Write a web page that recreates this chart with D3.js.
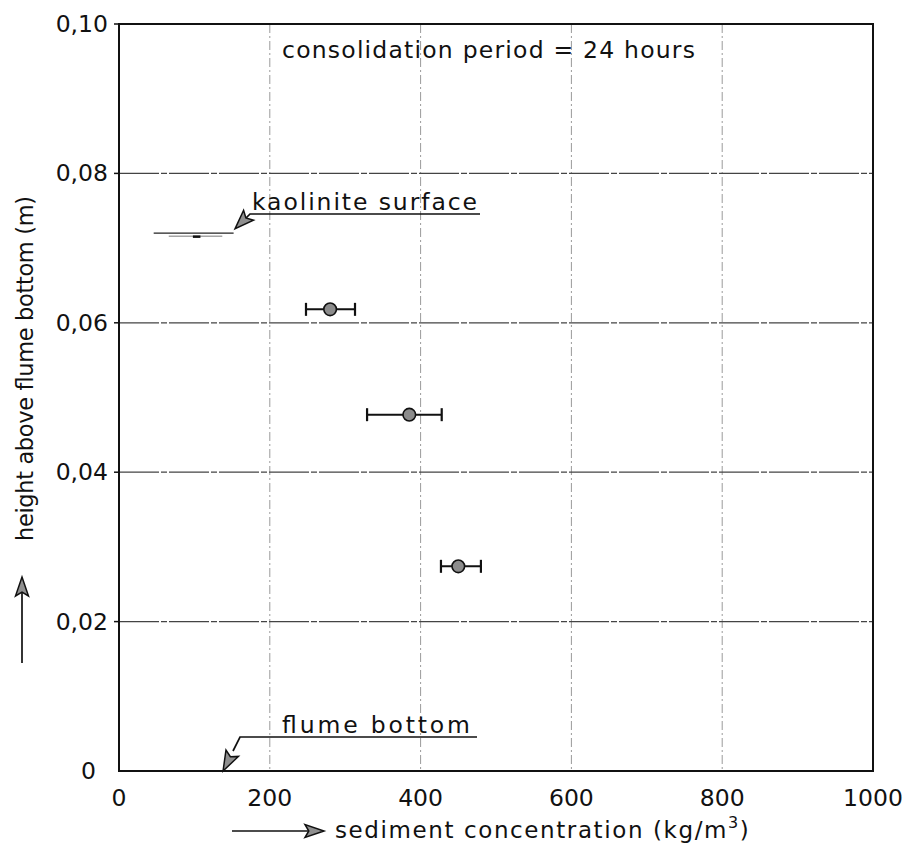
<!DOCTYPE html>
<html>
<head>
<meta charset="utf-8">
<script src="https://cdn.jsdelivr.net/npm/d3@7"></script>
<style>
  html, body { margin: 0; padding: 0; background: #fff; }
  svg text { font-family: "DejaVu Sans", sans-serif; fill: #111; }
</style>
</head>
<body>
<svg id="chart" width="914" height="848"></svg>
<script>
// Measured concentration profile after 24 h of consolidation
const concentration = [280, 385, 450];          // kg/m3
const heightAbove   = [0.0618, 0.0477, 0.0274]; // m
const concLow       = [248, 329, 427];
const concHigh      = [313, 428, 480];

// Kaolinite surface level and its horizontal extent
const surfaceLevel = 0.072;
const surfaceFrom  = [46, 152];

const xTicks = [0, 200, 400, 600, 800, 1000];
const yTicks = [0, 0.02, 0.04, 0.06, 0.08, 0.10];
const yTickLabels = ["0", "0,02", "0,04", "0,06", "0,08", "0,10"];

const svg = d3.select("#chart");
const plotLeft = 119, plotRight = 873, plotTop = 24, plotBottom = 771;

const x = d3.scaleLinear().domain([0, 1000]).range([plotLeft, plotRight]);
const y = d3.scaleLinear().domain([0, 0.10]).range([plotBottom, plotTop]);

// grid
svg.append("g").selectAll("line").data(xTicks.slice(1, -1)).join("line")
  .attr("x1", d => x(d)).attr("x2", d => x(d))
  .attr("y1", plotTop).attr("y2", plotBottom)
  .attr("stroke", "#9a9a9a").attr("stroke-width", 1)
  .attr("stroke-dasharray", "9,3,2,3");

svg.append("g").selectAll("line").data(yTicks.slice(1, -1)).join("line")
  .attr("x1", plotLeft).attr("x2", plotRight)
  .attr("y1", d => y(d)).attr("y2", d => y(d))
  .attr("stroke", "#444").attr("stroke-width", 1.3)
  .attr("stroke-dasharray", "40,2,6,2");

// frame
svg.append("rect")
  .attr("x", plotLeft).attr("y", plotTop)
  .attr("width", plotRight - plotLeft).attr("height", plotBottom - plotTop)
  .attr("fill", "none").attr("stroke", "#111").attr("stroke-width", 2);

// left ticks
svg.append("g").selectAll("line").data(yTicks.slice(1)).join("line")
  .attr("x1", plotLeft - 5).attr("x2", plotLeft)
  .attr("y1", d => y(d)).attr("y2", d => y(d))
  .attr("stroke", "#111").attr("stroke-width", 1.5);

// y tick labels
svg.append("g").selectAll("text").data(yTicks).join("text")
  .attr("x", (d, i) => i === 0 ? 96 : 108)
  .attr("y", d => y(d) + 8)
  .attr("text-anchor", "end")
  .attr("font-size", 23.5)
  .text((d, i) => yTickLabels[i]);

// x tick labels
svg.append("g").selectAll("text").data(xTicks).join("text")
  .attr("x", d => x(d)).attr("y", 806)
  .attr("text-anchor", "middle")
  .attr("font-size", 23.5)
  .text(d => d);

// arrowhead helper: tip at (tx,ty), pointing along angle
function arrowHead(g, tx, ty, angle, len, half) {
  const ca = Math.cos(angle), sa = Math.sin(angle);
  const bx = tx - ca * len, by = ty - sa * len;
  const p = [
    [tx, ty],
    [bx - sa * half, by + ca * half],
    [tx - ca * len * 0.8, ty - sa * len * 0.8],
    [bx + sa * half, by - ca * half]
  ];
  g.append("path")
    .attr("d", "M" + p.map(q => q.join(",")).join("L") + "Z")
    .attr("fill", "#8f8f8f").attr("stroke", "#111").attr("stroke-width", 1.5)
    .attr("stroke-linejoin", "miter");
}

// axis titles with arrows
const ax = svg.append("g");
ax.append("line").attr("x1", 232).attr("x2", 310).attr("y1", 831).attr("y2", 831)
  .attr("stroke", "#111").attr("stroke-width", 1.7);
arrowHead(ax, 324, 831, 0, 19, 6.5);
const xl = ax.append("text").attr("x", 335).attr("y", 838)
  .attr("font-size", 23).attr("letter-spacing", 1.6);
xl.append("tspan").text("sediment concentration (kg/m");
xl.append("tspan").attr("dy", -10).attr("font-size", 16).text("3");
xl.append("tspan").attr("dy", 10).text(")");

ax.append("line").attr("x1", 22).attr("x2", 22).attr("y1", 663).attr("y2", 592)
  .attr("stroke", "#111").attr("stroke-width", 1.7);
arrowHead(ax, 22, 577, -Math.PI / 2, 19, 6.5);
ax.append("text")
  .attr("transform", "translate(33,541) rotate(-90)")
  .attr("font-size", 22.5)
  .attr("textLength", 345).attr("lengthAdjust", "spacing")
  .text("height above flume bottom (m)");

// header note
svg.append("text").attr("x", 282).attr("y", 58)
  .attr("font-size", 23.5)
  .attr("textLength", 413).attr("lengthAdjust", "spacing")
  .text("consolidation period = 24 hours");

// kaolinite surface
const surf = svg.append("g");
surf.append("line")
  .attr("x1", x(surfaceFrom[0])).attr("x2", x(surfaceFrom[1]))
  .attr("y1", y(surfaceLevel)).attr("y2", y(surfaceLevel))
  .attr("stroke", "#222").attr("stroke-width", 1.3);
surf.append("line")
  .attr("x1", x(66)).attr("x2", x(137))
  .attr("y1", y(surfaceLevel) + 3).attr("y2", y(surfaceLevel) + 3)
  .attr("stroke", "#777").attr("stroke-width", 1);
surf.append("line")
  .attr("x1", x(98)).attr("x2", x(108))
  .attr("y1", y(surfaceLevel) + 3.5).attr("y2", y(surfaceLevel) + 3.5)
  .attr("stroke", "#111").attr("stroke-width", 2.5);

// annotations with leader arrows
const ann = svg.append("g");
ann.append("text").attr("x", 252).attr("y", 210)
  .attr("font-size", 23.5)
  .attr("textLength", 225).attr("lengthAdjust", "spacing")
  .text("kaolinite surface");
ann.append("path").attr("d", "M480,214 L250,214 L244,220")
  .attr("fill", "none").attr("stroke", "#111").attr("stroke-width", 1.7);
arrowHead(ann, x(154), y(0.0726), Math.atan2(229 - 214, 235 - 250), 19, 7);

ann.append("text").attr("x", 282).attr("y", 733)
  .attr("font-size", 23.5)
  .attr("textLength", 188).attr("lengthAdjust", "spacing")
  .text("flume bottom");
ann.append("path").attr("d", "M477,737 L240,737 L233,751")
  .attr("fill", "none").attr("stroke", "#111").attr("stroke-width", 1.7);
arrowHead(ann, x(138), y(0), Math.atan2(770 - 737, 223 - 240), 20, 7);

// error bars and points
const pts = svg.append("g");
concentration.forEach((c, i) => {
  const cy = y(heightAbove[i]);
  pts.append("line").attr("x1", x(concLow[i])).attr("x2", x(concHigh[i]))
    .attr("y1", cy).attr("y2", cy).attr("stroke", "#111").attr("stroke-width", 2);
  [concLow[i], concHigh[i]].forEach(v => {
    pts.append("line").attr("x1", x(v)).attr("x2", x(v))
      .attr("y1", cy - 6.5).attr("y2", cy + 6.5)
      .attr("stroke", "#111").attr("stroke-width", 2.2);
  });
  pts.append("circle").attr("cx", x(c)).attr("cy", cy).attr("r", 6.3)
    .attr("fill", "#8c8c8c").attr("stroke", "#111").attr("stroke-width", 1.6);
});
</script>
</body>
</html>
